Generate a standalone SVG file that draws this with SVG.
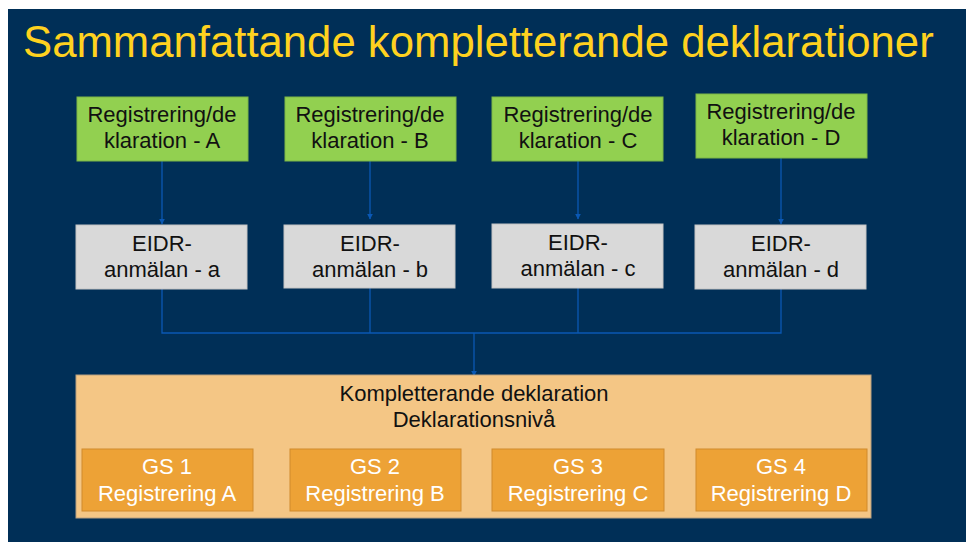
<svg xmlns="http://www.w3.org/2000/svg" width="966" height="542" viewBox="0 0 966 542">
<defs>
<style>
.t{font-family:"Liberation Sans",Arial,sans-serif;text-anchor:middle}
.g{fill:#92D050;stroke:#7DB646;stroke-width:1}
.e{fill:#D9D9D9;stroke:#C4C4C4;stroke-width:1}
.o{fill:#F4C685;stroke:#B8A080;stroke-width:1}
.s{fill:#EDA236;stroke:#D08A2C;stroke-width:1}
.k{fill:#111;font-size:22px}
.w{fill:#fff;font-size:22px}
.c{fill:none;stroke:#0A58B4;stroke-width:1.3}
</style>
<marker id="ah" viewBox="0 0 10 10" refX="9" refY="5" markerWidth="6" markerHeight="6" orient="auto" markerUnits="userSpaceOnUse">
<path d="M0,0 L10,5 L0,10 z" fill="#0A58B4"/>
</marker>
</defs>
<rect x="0" y="0" width="966" height="542" fill="#fff"/>
<rect x="8" y="9" width="958" height="533" fill="#002F57"/>
<text x="23" y="57" style="font-family:'Liberation Sans',Arial,sans-serif;font-size:43.7px;fill:#FFD21F">Sammanfattande kompletterande deklarationer</text>

<g id="connectors">
<line class="c" x1="162" y1="161" x2="162" y2="224" marker-end="url(#ah)"/>
<line class="c" x1="370" y1="161" x2="370" y2="219" marker-end="url(#ah)"/>
<line class="c" x1="578" y1="161" x2="578" y2="219" marker-end="url(#ah)"/>
<line class="c" x1="781" y1="158" x2="781" y2="224" marker-end="url(#ah)"/>
<polyline class="c" points="162,289 162,333 781,333 781,289"/>
<line class="c" x1="370" y1="288" x2="370" y2="333"/>
<line class="c" x1="578" y1="288" x2="578" y2="333"/>
<line class="c" x1="474" y1="333" x2="474" y2="376" marker-end="url(#ah)"/>
</g>

<g id="regA"><rect class="g" x="77" y="97" width="171" height="64"/><text class="t k" x="162" y="122">Registrering/de</text><text class="t k" x="162" y="148">klaration - A</text></g>
<g id="regB"><rect class="g" x="285" y="97" width="171" height="64"/><text class="t k" x="370" y="122">Registrering/de</text><text class="t k" x="370" y="148">klaration - B</text></g>
<g id="regC"><rect class="g" x="492" y="97" width="171" height="64"/><text class="t k" x="578" y="122">Registrering/de</text><text class="t k" x="578" y="148">klaration - C</text></g>
<g id="regD"><rect class="g" x="696" y="94" width="171" height="64"/><text class="t k" x="781" y="119">Registrering/de</text><text class="t k" x="781" y="145">klaration - D</text></g>

<g id="eidrA"><rect class="e" x="76" y="225" width="171" height="64"/><text class="t k" x="162" y="251">EIDR-</text><text class="t k" x="162" y="277">anmälan - a</text></g>
<g id="eidrB"><rect class="e" x="284" y="225" width="171" height="63"/><text class="t k" x="370" y="251">EIDR-</text><text class="t k" x="370" y="277">anmälan - b</text></g>
<g id="eidrC"><rect class="e" x="492" y="224" width="171" height="64"/><text class="t k" x="578" y="250">EIDR-</text><text class="t k" x="578" y="276">anmälan - c</text></g>
<g id="eidrD"><rect class="e" x="695" y="225" width="171" height="64"/><text class="t k" x="781" y="251">EIDR-</text><text class="t k" x="781" y="277">anmälan - d</text></g>

<g id="komp"><rect class="o" x="76" y="375" width="795" height="143"/><text class="t k" x="474" y="401">Kompletterande deklaration</text><text class="t k" x="474" y="427">Deklarationsnivå</text></g>

<g id="gs1"><rect class="s" x="82" y="449" width="171" height="62"/><text class="t w" x="167" y="474">GS 1</text><text class="t w" x="167" y="501">Registrering A</text></g>
<g id="gs2"><rect class="s" x="290" y="449" width="171" height="62"/><text class="t w" x="375" y="474">GS 2</text><text class="t w" x="375" y="501">Registrering B</text></g>
<g id="gs3"><rect class="s" x="492" y="449" width="172" height="62"/><text class="t w" x="578" y="474">GS 3</text><text class="t w" x="578" y="501">Registrering C</text></g>
<g id="gs4"><rect class="s" x="696" y="449" width="171" height="62"/><text class="t w" x="781" y="474">GS 4</text><text class="t w" x="781" y="501">Registrering D</text></g>
</svg>
